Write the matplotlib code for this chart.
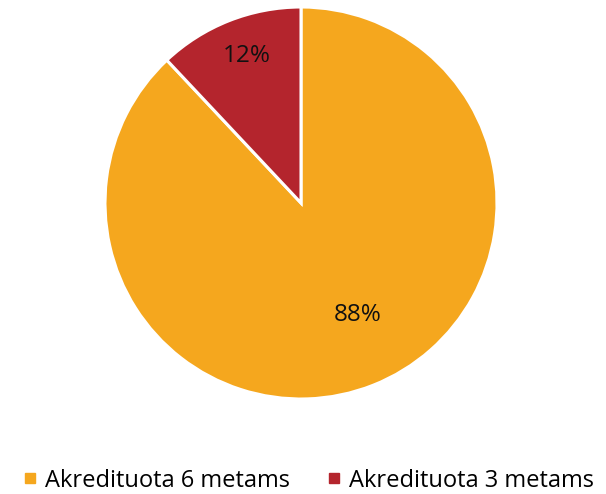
import numpy as np
import matplotlib.pyplot as plt
from matplotlib.lines import Line2D

# Data
labels = ["Akredituota 6 metams", "Akredituota 3 metams"]
shares = [88, 12]
colors = ["#F5A71E", "#B4252D"]
label_radius = [0.64, 0.80]
label_shift = [5.5, -1.5]  # degrees off the bisector

plt.rcParams['font.family'] = ['Open Sans', 'DejaVu Sans']

fig = plt.figure(figsize=(6.06, 4.94), dpi=100)
W, H = 606, 494
cx, cy, r = 301, 203, 196
ax = fig.add_axes([(cx - r) / W, (H - cy - r) / H, 2 * r / W, 2 * r / H])

wedges, texts, autotexts = ax.pie(
    shares, colors=colors, startangle=90, counterclock=False,
    autopct="%d%%", wedgeprops=dict(edgecolor="white", linewidth=2.2),
    textprops=dict(fontsize=17.5, color="#111111"))

# move each percentage label along its wedge's bisector
for w, t, d, s in zip(wedges, autotexts, label_radius, label_shift):
    ang = np.deg2rad((w.theta1 + w.theta2) / 2 + s)
    t.set_position((d * np.cos(ang), d * np.sin(ang)))

ax.set_xlim(-1, 1)
ax.set_ylim(-1, 1)
ax.set_aspect("equal")
ax.axis("off")

handles = [Line2D([], [], marker="s", linestyle="none", markersize=7,
                  markerfacecolor=c, markeredgecolor=c) for c in colors]
fig.legend(handles, labels, loc="lower center", bbox_to_anchor=(0.507, -0.04),
           ncol=2, frameon=False, fontsize=17, handletextpad=0.2,
           columnspacing=1.5, handlelength=0.8)

fig.savefig("out.png", dpi=100)
